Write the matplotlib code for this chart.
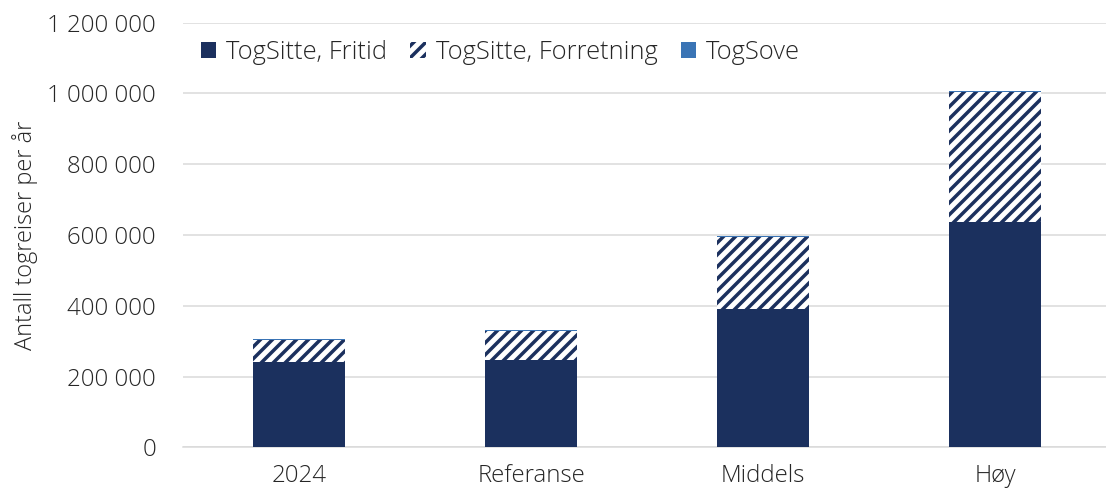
import matplotlib
matplotlib.use("Agg")
import matplotlib.pyplot as plt
import matplotlib.ticker as mticker
from matplotlib.patches import Patch
import numpy as np

categories = ["2024", "Referanse", "Middels", "Høy"]
fritid = [240000, 248000, 390000, 636000]
forretning = [62000, 80000, 203000, 367000]
sove = [3000, 3000, 3000, 3000]
series_names = ["TogSitte, Fritid", "TogSitte, Forretning", "TogSove"]
yticks = [0, 200000, 400000, 600000, 800000, 1000000, 1200000]

navy = "#1b305e"
blue = "#3a74b5"
txt = "#262626"

plt.rcParams["font.family"] = ["Open Sans", "DejaVu Sans"]
plt.rcParams["hatch.linewidth"] = 3.5

W, H = 1106, 498
fig = plt.figure(figsize=(W / 72, H / 72), dpi=72)
ax = fig.add_axes([183 / W, (H - 447.3) / H, (1111 - 183) / W, (447.3 - 22.5) / H])

x = np.arange(len(categories))
bw = 0.4
ax.bar(x, fritid, bw, color=navy, linewidth=0, zorder=3)
ax.bar(x, forretning, bw, bottom=fritid, facecolor="white", edgecolor=navy,
       hatch="//", linewidth=0, zorder=3)
bottom2 = [a + b for a, b in zip(fritid, forretning)]
ax.bar(x, sove, bw, bottom=bottom2, color=blue, linewidth=0, zorder=3)

ax.set_xlim(-0.5, len(categories) - 0.5)
ax.set_ylim(0, 1200000)
ax.set_yticks(yticks)
ax.yaxis.set_major_formatter(mticker.FuncFormatter(lambda v, p: f"{int(v):,}".replace(",", " ")))
ax.set_xticks(x)
ax.set_xticklabels(categories)
ax.grid(axis="y", color="#d9d9d9", linewidth=1.5, zorder=0)
for s in ["top", "right", "left"]:
    ax.spines[s].set_visible(False)
ax.spines["bottom"].set_color("#d9d9d9")
ax.spines["bottom"].set_linewidth(1.5)
ax.tick_params(axis="both", length=0, labelsize=24, colors=txt)
ax.tick_params(axis="y", pad=27)
ax.tick_params(axis="x", pad=17)
for lab in ax.get_xticklabels() + ax.get_yticklabels():
    lab.set_fontweight("light")

ax.set_ylabel("Antall togreiser per år", fontsize=23.5, color=txt, fontweight="light", labelpad=9)

handles = [Patch(facecolor=navy, linewidth=0),
           Patch(facecolor="white", edgecolor=navy, hatch="//", linewidth=0),
           Patch(facecolor=blue, linewidth=0)]
leg = ax.legend(handles, series_names, loc="upper left", bbox_to_anchor=(0.0, 1.0),
                ncol=3, frameon=False, fontsize=25.5, handlelength=0.6, handleheight=0.6,
                handletextpad=0.4, columnspacing=0.9, borderaxespad=0.3)
for t in leg.get_texts():
    t.set_color(txt)
    t.set_fontweight("light")

fig.savefig("out.png", dpi=72)
